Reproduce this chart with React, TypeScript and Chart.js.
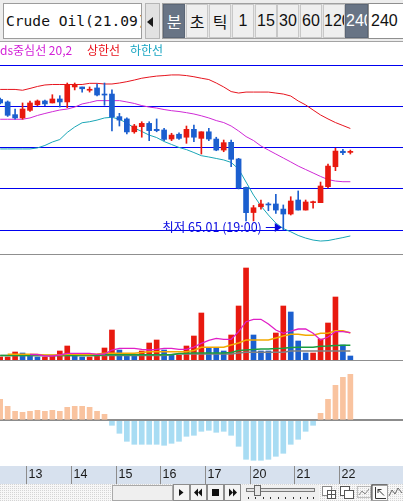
import React, { useEffect, useRef } from 'react';
import { Chart, registerables } from 'chart.js';

Chart.register(...registerables);

// ---------------- data (4-hour candles, 48 bars) ----------------
const OPEN = [72.92,72.77,72.00,71.80,72.26,72.60,72.83,72.71,72.95,72.77,73.68,73.68,73.48,73.62,73.25,73.25,71.88,71.74,70.96,71.27,71.47,71.11,71.07,70.52,70.81,70.63,71.11,70.56,70.96,70.52,69.85,70.32,69.31,67.59,66.06,66.41,66.58,66.58,66.27,65.97,66.82,66.21,66.66,66.66,67.63,68.84,69.78,69.71];
const HIGH = [73.01,72.83,72.34,72.71,72.83,72.89,72.89,73.21,73.15,73.92,73.92,73.68,73.68,73.86,73.92,73.50,72.08,71.80,71.41,71.57,71.57,71.74,71.17,70.87,70.90,71.31,71.37,70.96,71.17,70.63,70.46,70.46,69.35,67.61,66.49,66.82,66.66,67.17,66.52,67.02,67.37,66.82,66.76,67.91,69.00,69.96,69.90,69.85];
const LOW = [72.65,71.89,71.72,71.72,72.20,72.54,72.54,72.71,72.46,72.42,73.50,73.37,73.37,73.13,72.57,71.01,71.31,70.83,70.87,70.63,70.42,70.96,70.42,70.42,70.50,70.26,70.36,69.61,70.42,69.81,69.75,68.84,67.49,65.55,65.55,66.26,66.17,66.01,65.01,65.91,66.21,66.21,66.32,66.66,67.55,68.60,69.57,69.61];
const CLOSE = [72.71,71.96,71.80,72.34,72.71,72.83,72.65,72.95,72.77,73.80,73.80,73.57,73.54,73.19,73.19,71.86,71.67,70.95,71.31,71.47,71.03,71.03,70.50,70.76,70.56,71.11,70.63,70.96,70.52,69.85,70.30,69.29,67.55,66.05,66.35,66.58,66.52,66.21,65.97,66.76,66.21,66.70,66.72,67.67,68.88,69.79,69.69,69.73];

const BB_UPPER = [73.53,73.53,73.53,73.48,73.59,73.71,73.80,73.83,73.83,73.83,73.83,73.83,73.90,73.90,73.86,73.86,73.92,74.00,74.10,74.21,74.28,74.34,74.37,74.41,74.41,74.37,74.30,74.21,74.13,73.92,73.68,73.40,73.31,73.37,73.37,73.37,73.37,73.31,73.25,73.13,72.83,72.59,72.28,71.98,71.74,71.52,71.34,71.16];
const BB_MID = [71.72,71.72,71.72,71.72,71.80,71.95,72.07,72.18,72.28,72.34,72.46,72.65,72.74,72.85,72.85,72.85,72.85,72.77,72.68,72.55,72.46,72.40,72.31,72.24,72.19,72.12,72.04,71.93,71.80,71.64,71.52,71.31,71.01,70.67,70.43,70.10,69.85,69.61,69.37,69.13,68.88,68.67,68.46,68.25,68.06,67.97,67.93,67.93];
const BB_LOWER = [69.92,69.92,69.92,69.92,69.92,69.98,70.13,70.34,70.49,70.92,71.25,71.51,71.57,71.67,71.80,71.84,71.72,71.49,71.19,70.98,70.76,70.61,70.37,70.19,70.01,69.88,69.70,69.51,69.43,69.34,69.25,69.10,68.70,67.91,67.12,66.46,65.91,65.42,65.09,64.89,64.67,64.51,64.39,64.33,64.36,64.45,64.54,64.64];

const VOLUME = [300,300,800,700,470,300,300,400,900,1400,470,300,300,470,1200,3000,1000,470,470,900,1700,2000,1000,470,470,1400,2400,4700,1200,1200,900,2500,5400,9200,2500,900,900,2700,5400,4800,1900,700,700,2100,3700,6300,1500,400];
const VOL_UP = [1,1,1,0,0,0,1,1,1,1,0,0,1,1,1,1,0,0,0,1,1,1,0,0,1,1,1,1,0,0,0,1,1,1,0,0,0,1,1,0,0,0,1,1,1,1,0,0];
const VOL_MA5 = [null,null,null,null,550,550,400,400,500,670,670,670,670,570,600,1000,1170,1170,1170,1070,1000,1070,1170,1170,1070,1070,1300,1670,1970,2170,2070,2070,2830,3830,4070,4070,3600,3000,2670,2900,3100,3100,2670,2000,2300,2830,2830,2730];
const VOL_MA10 = [null,570,570,570,570,550,500,500,500,570,570,550,550,600,670,670,670,670,670,750,830,830,830,830,830,830,950,1270,1270,1270,1270,1500,1700,2000,2000,2000,2000,2200,2400,2570,2570,2470,2470,2670,2670,2930,2930,2700];
const VOL_MA20 = [450,450,450,450,450,450,450,450,450,450,450,450,450,450,520,520,520,520,520,520,520,520,520,520,650,680,700,700,700,700,700,750,950,1000,1050,1100,1100,1150,1170,1250,1270,1270,1270,1370,1400,1450,1470,1470];
const VOL_MA60 = [450,450,450,450,450,450,450,450,450,450,450,450,450,450,450,450,450,450,450,450,450,450,450,550,600,600,600,600,600,600,600,600,700,770,770,770,770,770,770,900,900,900,900,900,900,900,900,900];

const OSC = [0.21,0.14,0.09,0.08,0.09,0.10,0.09,0.10,0.09,0.13,0.14,0.14,0.13,0.09,0.06,-0.05,-0.13,-0.21,-0.24,-0.24,-0.24,-0.24,-0.25,-0.23,-0.21,-0.16,-0.15,-0.11,-0.10,-0.12,-0.11,-0.15,-0.26,-0.39,-0.40,-0.40,-0.39,-0.36,-0.33,-0.24,-0.19,-0.11,-0.05,0.07,0.21,0.35,0.43,0.46];

const DAY_LABELS = ['13', '14', '15', '16', '17', '20', '21', '22'];
const DAY_START = [4, 10, 16, 22, 28, 34, 40, 46];
const PRICE_GRID = [65, 67.5, 70, 72.5, 75];
const LOW_INDEX = 38;
const LOW_TEXT = '최저 65.01 (19:00)';
const SYMBOL = 'Crude Oil(21.09)';
const PERIOD_BUTTONS = ['분', '초', '틱', '1', '15', '30', '60', '120', '240'];
const PERIOD_SELECTED = [true, false, false, false, false, false, false, false, true];
const PERIOD_INPUT = '240';
const LEGEND_ITEMS = ['ds중심선 20,2', '상한선', '하한선'];

// ---------------- style ----------------
const RED = '#e8190f';
const BLUE = '#1b5fcf';
const X_MIN = -0.027;
const X_MAX = 54.067;

const xScale: any = { type: 'linear', min: X_MIN, max: X_MAX, display: false, offset: false };
const common: any = {
  responsive: false,
  maintainAspectRatio: false,
  animation: false,
  events: [],
  layout: { padding: 0, autoPadding: false },
  plugins: { legend: { display: false }, tooltip: { enabled: false } },
};

const lowLabelPlugin = {
  id: 'lowLabel',
  afterDraw(chart: any) {
    const { ctx, scales } = chart;
    const px = scales.x.getPixelForValue(LOW_INDEX);
    const py = scales.y.getPixelForValue(LOW[LOW_INDEX]);
    const tipX = px - 1.5;
    const ay = Math.round(py - 3) + 0.5;
    ctx.save();
    ctx.strokeStyle = '#0a0ae0';
    ctx.fillStyle = '#0a0ae0';
    ctx.lineWidth = 1;
    ctx.beginPath();
    ctx.moveTo(tipX - 16, ay);
    ctx.lineTo(tipX - 6, ay);
    ctx.stroke();
    ctx.beginPath();
    ctx.moveTo(tipX, ay);
    ctx.lineTo(tipX - 7, ay - 4.5);
    ctx.lineTo(tipX - 7, ay + 4.5);
    ctx.closePath();
    ctx.fill();
    ctx.font = '12.5px "Noto Sans CJK KR", sans-serif';
    ctx.textAlign = 'right';
    ctx.textBaseline = 'alphabetic';
    ctx.fillText(LOW_TEXT, tipX - 20, py + 2);
    ctx.restore();
  },
};

const dateStripPlugin = {
  id: 'dateStrip',
  afterDraw(chart: any) {
    const { ctx, chartArea, scales } = chart;
    const top = chartArea.bottom;
    const h = chart.height - top;
    ctx.save();
    ctx.fillStyle = '#d7e1ee';
    ctx.fillRect(0, top, chart.width, h);
    ctx.strokeStyle = '#8c8c8c';
    ctx.lineWidth = 1;
    ctx.font = '12.5px "Liberation Sans Narrow", "Liberation Sans", sans-serif';
    ctx.fillStyle = '#1a1a1a';
    ctx.textBaseline = 'middle';
    ctx.textAlign = 'left';
    DAY_START.forEach((s, k) => {
      const px = Math.round(scales.x.getPixelForValue(s - 0.5)) + 0.5;
      ctx.beginPath();
      ctx.moveTo(px, top);
      ctx.lineTo(px, chart.height);
      ctx.stroke();
      ctx.fillText(DAY_LABELS[k], px + 2, top + h / 2);
    });
    ctx.restore();
  },
};

function BottomBar() {
  const tickXs = [248, 255, 263, 270, 278, 285, 293, 300, 307, 313];
  return (
    <svg width={403} height={17} style={{ position: 'absolute', left: 0, top: 484, display: 'block' }}>
      <defs>
        <pattern id="bbDots" width="2" height="2" patternUnits="userSpaceOnUse">
          <rect width="2" height="2" fill="#f7f7f7" />
          <rect width="1" height="1" fill="#d4d4d4" />
        </pattern>
      </defs>
      <rect x={0} y={0} width={403} height={17} fill="url(#bbDots)" />
      <rect x={112.5} y={1.5} width={60} height={15} fill="#efefef" stroke="#a9a9a9" />
      {[173, 190, 207, 224].map((bx, k) => (
        <rect key={k} x={bx + 0.5} y={0.5} width={16} height={16} fill="#f4f4f4" stroke="#8d8d8d" />
      ))}
      <polygon points="179,5 183.5,8.5 179,12" fill="#111" />
      <polygon points="198,4.5 194,8.5 198,12.5" fill="#111" />
      <polygon points="202,4.5 198,8.5 202,12.5" fill="#111" />
      <rect x={212} y={5} width={7} height={7} fill="#111" />
      <polygon points="229,4.5 233,8.5 229,12.5" fill="#111" />
      <polygon points="233,4.5 237,8.5 233,12.5" fill="#111" />
      <rect x={241} y={1} width={78} height={16} fill="#f0f0f0" />
      <rect x={246.5} y={4.5} width={68} height={3} fill="#e2e2e2" stroke="#7a7a7a" />
      <rect x={254.5} y={1.5} width={6} height={10} fill="#e8e8e8" stroke="#666" />
      {tickXs.map((tx, k) => (
        <rect key={k} x={tx} y={13} width={1} height={2} fill="#333" />
      ))}
      <rect x={322.5} y={2.5} width={9} height={9} fill="#fff" stroke="#8a8a8a" />
      <rect x={327.5} y={6.5} width={8} height={8} fill="#fff" stroke="#555" />
      <path d="M331.5 6.5 V14.5 M327.5 10.5 H335.5" stroke="#555" />
      <rect x={340.5} y={2.5} width={9} height={9} fill="#fff" stroke="#555" />
      <rect x={344.5} y={6.5} width={9} height={8} fill="#fff" stroke="#555" />
      <rect x={357.5} y={2.5} width={13} height={11} fill="none" stroke="#888" strokeDasharray="1 1" />
      <polyline points="359,11 362,7 365,10 369,5" fill="none" stroke="#8a8a8a" />
      <rect x={371.5} y={0.5} width={16} height={16} fill="#fafafa" stroke="#a0a0a0" />
      <path d="M372 16 V1 H387" stroke="#444" fill="none" />
      <path d="M375.5 3 V14.5 H386" stroke="#333" fill="none" />
      <path d="M378 5.5 L384 11.5 M378 5.5 H381.5 M378 5.5 V9" stroke="#333" fill="none" />
      <polyline points="389,12 392,6 395,10 398,4 402,9" fill="none" stroke="#666" />
    </svg>
  );
}

function Toolbar() {
  const lefts = [163, 186, 209, 232, 255, 277, 300, 323, 345];
  return (
    <div style={{ position: 'absolute', left: 0, top: 0, width: 403, height: 42, boxSizing: 'border-box', background: '#ededed', borderBottom: '1px solid #a3a3a3' }}>
      <div style={{ position: 'absolute', left: 3, top: 3, width: 139, height: 36, boxSizing: 'border-box', border: '1px solid #9c9c9c', background: '#fff', overflow: 'hidden', whiteSpace: 'nowrap', font: '14.6px "DejaVu Sans Mono", monospace', lineHeight: '34px', paddingLeft: 2, color: '#111' }}>{SYMBOL}</div>
      <div style={{ position: 'absolute', left: 145, top: 3, width: 15, height: 36, boxSizing: 'border-box', border: '1px solid #b5b5b5', background: '#e2e2e2' }}>
        <div style={{ position: 'absolute', left: 1, top: 13, width: 0, height: 0, borderTop: '5px solid transparent', borderBottom: '5px solid transparent', borderRight: '6px solid #1a1a1a' }} />
      </div>
      <div style={{ position: 'absolute', left: 162, top: 3, width: 206, height: 36, boxSizing: 'border-box', border: '1px solid #a0a0a0', background: '#e6e6e6' }} />
      {PERIOD_BUTTONS.map((b, k) => {
        const hangul = /[가-힣]/.test(b);
        const sel = PERIOD_SELECTED[k];
        return (
          <div key={k} style={{ position: 'absolute', left: lefts[k], top: 4, width: k === 8 ? 23 : 22, height: 34, boxSizing: 'border-box', border: '1px solid ' + (sel ? '#5b6676' : '#c8c8c8'), background: sel ? '#687485' : '#efefef', color: sel ? '#fff' : '#111', textAlign: 'center', overflow: 'hidden', whiteSpace: 'nowrap', font: hangul ? '16px "Noto Sans CJK KR", sans-serif' : '16px "Liberation Sans", sans-serif', lineHeight: '32px' }}>{b}</div>
        );
      })}
      <div style={{ position: 'absolute', left: 368, top: 3, width: 36, height: 36, boxSizing: 'border-box', border: '1px solid #8f8f8f', background: '#fff', font: '16px "Liberation Sans", sans-serif', lineHeight: '34px', paddingLeft: 2, color: '#111' }}>{PERIOD_INPUT}</div>
    </div>
  );
}

export default function App() {
  const priceRef = useRef<HTMLCanvasElement>(null);
  const volRef = useRef<HTMLCanvasElement>(null);
  const oscRef = useRef<HTMLCanvasElement>(null);

  useEffect(() => {
    document.body.style.margin = '0';
    const idx = OPEN.map((_, i) => i);
    const candleColors = idx.map((i) => (CLOSE[i] >= OPEN[i] ? RED : BLUE));

    const price = new Chart(priceRef.current as HTMLCanvasElement, {
      type: 'bar',
      data: {
        datasets: [
          { type: 'bar', data: idx.map((i) => ({ x: i, y: [OPEN[i], CLOSE[i]] })), backgroundColor: candleColors, barThickness: 5, minBarLength: 1, grouped: false, borderWidth: 0, order: 0 } as any,
          { type: 'bar', data: idx.map((i) => ({ x: i, y: [LOW[i], HIGH[i]] })), backgroundColor: candleColors, barThickness: 1, grouped: false, borderWidth: 0, order: 1 } as any,
          { type: 'line', data: idx.map((i) => ({ x: i, y: BB_UPPER[i] })), borderColor: '#e6141e', borderWidth: 1, pointRadius: 0, fill: false, order: 2 } as any,
          { type: 'line', data: idx.map((i) => ({ x: i, y: BB_MID[i] })), borderColor: '#cf2ad6', borderWidth: 1, pointRadius: 0, fill: false, order: 2 } as any,
          { type: 'line', data: idx.map((i) => ({ x: i, y: BB_LOWER[i] })), borderColor: '#1aa6b6', borderWidth: 1, pointRadius: 0, fill: false, order: 2 } as any,
        ],
      },
      options: {
        ...common,
        scales: {
          x: xScale,
          y: {
            type: 'linear', min: 63.544, max: 76.408, display: true, z: 1,
            ticks: { display: false }, border: { display: false },
            grid: { color: '#0000f0', lineWidth: 1, drawTicks: false },
            afterBuildTicks: (axis: any) => { axis.ticks = PRICE_GRID.map((v) => ({ value: v })); },
          },
        },
      },
      plugins: [lowLabelPlugin],
    } as any);

    const vol = new Chart(volRef.current as HTMLCanvasElement, {
      type: 'bar',
      data: {
        datasets: [
          { type: 'line', data: idx.map((i) => ({ x: i, y: VOL_MA5[i] })), borderColor: '#e01fc6', borderWidth: 1.3, pointRadius: 0, fill: false, order: 0 } as any,
          { type: 'line', data: idx.map((i) => ({ x: i, y: VOL_MA10[i] })), borderColor: '#f2a900', borderWidth: 1.5, pointRadius: 0, fill: false, order: 1 } as any,
          { type: 'line', data: idx.map((i) => ({ x: i, y: VOL_MA20[i] })), borderColor: '#1a9e3f', borderWidth: 1.5, pointRadius: 0, fill: false, order: 2 } as any,
          { type: 'line', data: idx.map((i) => ({ x: i, y: VOL_MA60[i] })), borderColor: '#808080', borderWidth: 1.5, pointRadius: 0, fill: false, order: 3 } as any,
          { type: 'bar', data: idx.map((i) => ({ x: i, y: VOLUME[i] })), backgroundColor: idx.map((i) => (VOL_UP[i] ? RED : BLUE)), barThickness: 5, grouped: false, borderWidth: 0, order: 4 } as any,
        ],
      },
      options: {
        ...common,
        scales: {
          x: xScale,
          y: { type: 'linear', min: 0, max: 10500, display: false },
        },
      },
    } as any);

    const osc = new Chart(oscRef.current as HTMLCanvasElement, {
      type: 'bar',
      data: {
        datasets: [
          { type: 'bar', data: idx.map((i) => ({ x: i, y: OSC[i] })), backgroundColor: idx.map((i) => (OSC[i] >= 0 ? '#f9c39f' : '#a8dcf3')), barThickness: 5, grouped: false, borderWidth: 0 } as any,
        ],
      },
      options: {
        ...common,
        layout: { padding: { left: 0, right: 0, top: 0, bottom: 18 }, autoPadding: false },
        scales: {
          x: xScale,
          y: {
            type: 'linear', min: -0.457, max: 0.593, display: true, z: 1,
            ticks: { display: false }, border: { display: false },
            grid: { color: '#8c8c8c', lineWidth: 2, drawTicks: false },
            afterBuildTicks: (axis: any) => { axis.ticks = [{ value: 0 }]; },
          },
        },
      },
      plugins: [dateStripPlugin],
    } as any);

    return () => {
      price.destroy();
      vol.destroy();
      osc.destroy();
    };
  }, []);

  const legendColors = ['#d21ed7', '#e8101a', '#18a5c2'];
  const legendLefts = [0, 87, 130];

  return (
    <div style={{ position: 'fixed', left: 0, top: 0, width: 403, height: 501, overflow: 'hidden', background: '#fff' }}>
      <Toolbar />
      <canvas ref={priceRef} width={403} height={212} style={{ position: 'absolute', left: 0, top: 42, display: 'block' }} />
      <div style={{ position: 'absolute', left: 0, top: 42, width: 403, height: 16, font: '12px "Noto Sans CJK KR", sans-serif', lineHeight: '16px', whiteSpace: 'pre' }}>
        {LEGEND_ITEMS.map((t, k) => (
          <span key={k} style={{ position: 'absolute', left: legendLefts[k], top: 0, color: legendColors[k] }}>{t}</span>
        ))}
      </div>
      <div style={{ position: 'absolute', left: 0, top: 254, width: 403, height: 1, background: '#8f8f8f' }} />
      <canvas ref={volRef} width={403} height={105} style={{ position: 'absolute', left: 0, top: 255, display: 'block' }} />
      <div style={{ position: 'absolute', left: 0, top: 360, width: 403, height: 1, background: '#8f8f8f' }} />
      <canvas ref={oscRef} width={403} height={123} style={{ position: 'absolute', left: 0, top: 361, display: 'block' }} />
      <BottomBar />
    </div>
  );
}
